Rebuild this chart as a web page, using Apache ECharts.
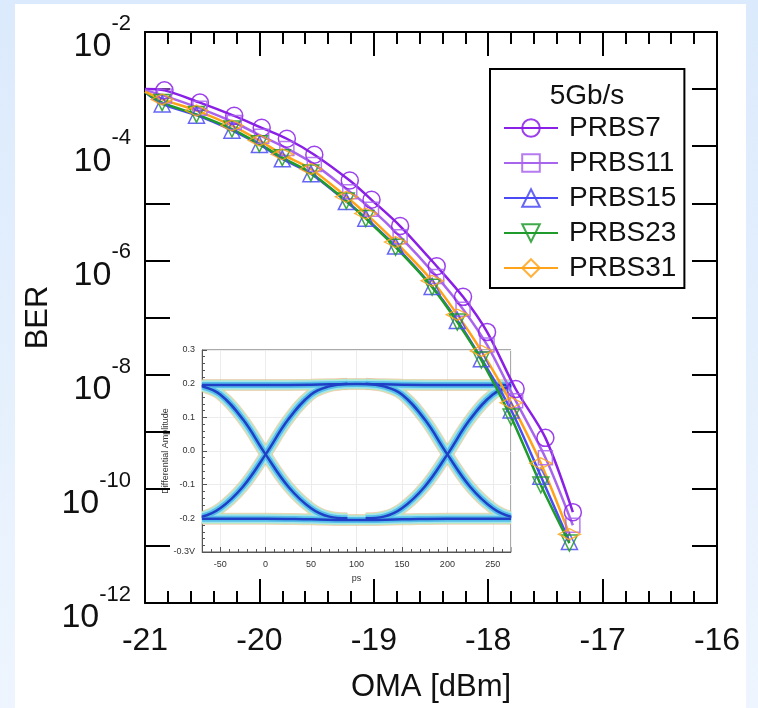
<!DOCTYPE html>
<html>
<head>
<meta charset="utf-8">
<script src="https://cdn.jsdelivr.net/npm/echarts@6/dist/echarts.min.js"></script>
<style>
  html, body { margin: 0; padding: 0; width: 758px; height: 708px; overflow: hidden;
    background: linear-gradient(to bottom, #dbeafc, #eef5fe); }
  #panel { position: absolute; left: 15px; top: 4px; width: 731px; height: 704px; background: #fff; }
  #chart { position: absolute; left: 0; top: 0; width: 758px; height: 708px; }
</style>
</head>
<body>
<div id="panel"></div>
<div id="chart"></div>
<script>
// ---- BER curves (OMA in dBm, BER) ----
const seriesNames = ['PRBS7', 'PRBS11', 'PRBS15', 'PRBS23', 'PRBS31'];
const omaA = [-20.83, -20.52, -20.22, -19.98, -19.76, -19.52, -19.21, -19.02, -18.77, -18.45, -18.22, -18.01, -17.76, -17.50, -17.26];
const omaB = [-20.85, -20.55, -20.24, -20.00, -19.80, -19.55, -19.24, -19.07, -18.81, -18.49, -18.27, -18.06, -17.80, -17.54, -17.29];
const berPRBS7  = [9.5e-4, 5.8e-4, 3.4e-4, 2.1e-4, 1.35e-4, 7.1e-5, 2.5e-5, 1.15e-5, 4.0e-6, 7.9e-7, 2.3e-7, 5.6e-8, 5.6e-9, 7.8e-10, 3.9e-11];
const berPRBS11 = [7.6e-4, 4.6e-4, 2.6e-4, 1.5e-4, 9.1e-5, 4.8e-5, 1.6e-5, 7.9e-6, 2.6e-6, 5.2e-7, 1.4e-7, 3.3e-8, 3.5e-9, 3.5e-10, 2.3e-11];
const berPRBS15 = [5.5e-4, 3.5e-4, 1.9e-4, 1.07e-4, 6.0e-5, 3.3e-5, 1.07e-5, 5.5e-6, 1.78e-6, 3.5e-7, 8.9e-8, 1.9e-8, 2.4e-9, 1.66e-10, 1.2e-11];
const berPRBS23 = [5.8e-4, 3.6e-4, 2.0e-4, 1.1e-4, 6.3e-5, 3.4e-5, 1.1e-5, 5.4e-6, 1.7e-6, 3.4e-7, 8.3e-8, 1.8e-8, 1.8e-9, 1.17e-10, 1.12e-11];
const berPRBS31 = [6.6e-4, 4.2e-4, 2.3e-4, 1.26e-4, 7.2e-5, 4.0e-5, 1.3e-5, 6.6e-6, 2.1e-6, 4.4e-7, 1.12e-7, 2.6e-8, 3.2e-9, 2.8e-10, 1.6e-11];
// fitted curves start at the left edge of the plot
const fitStartOMA = -21;
const fitStartBER = [1.0e-3, 9.6e-4, 8.9e-4, 8.9e-4, 9.0e-4];

// ---- eye diagram traces (ps, V) ----
const eyeTopRail    = [[-70, 0.196], [0, 0.196], [50, 0.197], [100, 0.199], [150, 0.197], [200, 0.196], [270, 0.196]];
const eyeBottomRail = [[-70, -0.201], [0, -0.201], [50, -0.203], [100, -0.205], [150, -0.203], [200, -0.201], [270, -0.201]];
const eyeFall0   = [[-90, 0.2], [-70, 0.192], [-50, 0.168], [-25, 0.094], [0, -0.01], [25, -0.106], [50, -0.17], [70, -0.195], [90, -0.2]];
const eyeRise0   = [[-90, -0.2], [-70, -0.195], [-50, -0.17], [-25, -0.106], [0, -0.01], [25, 0.094], [50, 0.168], [70, 0.192], [90, 0.2]];
const eyeFall200 = [[110, 0.2], [130, 0.192], [150, 0.168], [175, 0.094], [200, -0.01], [225, -0.106], [250, -0.17], [270, -0.195], [290, -0.2]];
const eyeRise200 = [[110, -0.2], [130, -0.195], [150, -0.17], [175, -0.106], [200, -0.01], [225, 0.094], [250, 0.168], [270, 0.192], [290, 0.2]];

const FONT = 'Liberation Sans, Arial, Helvetica, sans-serif';

const styles = [
  { color: '#8a1fe6', symbol: 'circle', size: 17, rotate: 0 },
  { color: '#a964ee', symbol: 'rect', size: 14, rotate: 0 },
  { color: '#4b4bf5', symbol: 'triangle', size: 16, rotate: 0 },
  { color: '#1e9b2a', symbol: 'triangle', size: 16, rotate: 180 },
  { color: '#ffa31a', symbol: 'diamond', size: [22, 11], rotate: 0 }
];
const berSets = [berPRBS7, berPRBS11, berPRBS15, berPRBS23, berPRBS31];
const omaSets = [omaA, omaA, omaB, omaB, omaB];

const mainSeries = seriesNames.map((name, i) => {
  const st = styles[i];
  const data = [{ value: [fitStartOMA, fitStartBER[i]], symbol: 'none' }]
    .concat(omaSets[i].map((x, k) => [x, berSets[i][k]]));
  return {
    name: name, type: 'line', xAxisIndex: 0, yAxisIndex: 0, z: 5,
    smooth: 0.3, data: data,
    symbol: st.symbol, symbolSize: st.size, symbolRotate: st.rotate,
    showAllSymbol: true,
    lineStyle: { color: st.color, width: 2.5 },
    itemStyle: { color: 'rgba(255,255,255,0)', borderColor: st.color, borderWidth: 1.5, opacity: 0.85 },
    emphasis: { disabled: true }
  };
});

const eyeTraces = [eyeTopRail, eyeBottomRail, eyeFall0, eyeRise0, eyeFall200, eyeRise200];
const eyeLayers = [
  { width: 12, color: 'rgba(235,165,130,0.5)' },
  { width: 10.5, color: 'rgba(190,235,160,0.8)' },
  { width: 9, color: '#a3e4ef' },
  { width: 6, color: '#56bfe8' },
  { width: 2.5, color: '#1f3fc6' }
];
const eyeSeries = [];
eyeLayers.forEach(layer => {
  eyeTraces.forEach(trace => {
    eyeSeries.push({
      type: 'line', xAxisIndex: 2, yAxisIndex: 2, z: 2, smooth: 0.4,
      symbol: 'none', data: trace, clip: true, silent: true,
      lineStyle: { color: layer.color, width: layer.width, cap: 'butt' },
      emphasis: { disabled: true }
    });
  });
});

const blackLine = { color: '#000', width: 2 };
const insetLine = { color: '#555', width: 1 };

const option = {
  animation: false,
  backgroundColor: 'transparent',
  textStyle: { fontFamily: FONT },
  grid: [
    { left: 145, top: 32, width: 572, height: 571, show: false },
    { left: 202, top: 350, width: 309, height: 202, show: true, backgroundColor: '#fff', borderColor: '#555', borderWidth: 1 }
  ],
  xAxis: [
    { type: 'value', gridIndex: 0, position: 'bottom', min: -21, max: -16, interval: 1,
      axisLine: { show: true, onZero: false, lineStyle: blackLine },
      axisTick: { inside: true, length: 24, lineStyle: blackLine },
      minorTick: { show: true, splitNumber: 5, length: 12, lineStyle: blackLine },
      splitLine: { show: false },
      axisLabel: { margin: 22, fontSize: 32, color: '#111', fontFamily: FONT },
      name: 'OMA [dBm]', nameLocation: 'middle', nameGap: 69,
      nameTextStyle: { fontSize: 31, color: '#111', fontFamily: FONT } },
    { type: 'value', gridIndex: 0, position: 'top', min: -21, max: -16, interval: 1,
      axisLine: { show: true, onZero: false, lineStyle: blackLine },
      axisTick: { inside: true, length: 24, lineStyle: blackLine },
      minorTick: { show: true, splitNumber: 5, length: 12, lineStyle: blackLine },
      splitLine: { show: false }, axisLabel: { show: false } },
    { type: 'value', gridIndex: 1, position: 'bottom', min: -70, max: 270, splitNumber: 7,
      axisLine: { show: true, onZero: false, lineStyle: insetLine },
      axisTick: { inside: true, length: 5, lineStyle: insetLine },
      minorTick: { show: true, splitNumber: 5, length: 3, lineStyle: insetLine },
      splitLine: { show: true, lineStyle: { color: '#ececec', width: 1 } },
      axisLabel: { margin: 8, fontSize: 9, color: '#333', showMinLabel: false, showMaxLabel: false, fontFamily: FONT },
      name: 'ps', nameLocation: 'middle', nameGap: 22,
      nameTextStyle: { fontSize: 9, color: '#333', fontFamily: FONT } }
  ],
  yAxis: [
    { type: 'log', gridIndex: 0, position: 'left', min: 1e-12, max: 1e-2, interval: 1, logBase: 10,
      axisLine: { show: true, onZero: false, lineStyle: blackLine },
      axisTick: { inside: true, length: 25, lineStyle: blackLine },
      minorTick: { show: false }, splitLine: { show: false },
      axisLabel: {
        margin: 14, color: '#111',
        formatter: v => {
          const e = Math.round(Math.log10(v));
          return e % 2 === 0 ? '{b|10}{s|' + e + '}' : '';
        },
        rich: {
          b: { fontSize: 34, lineHeight: 34, padding: [30, 0, 0, 0], color: '#111', fontFamily: FONT },
          s: { fontSize: 22, lineHeight: 22, padding: [0, 0, 16, 0], color: '#111', fontFamily: FONT }
        }
      },
      name: 'BER', nameLocation: 'middle', nameGap: 91, nameRotate: 90, nameMoveOverlap: false,
      nameTextStyle: { fontSize: 31, color: '#111', fontFamily: FONT } },
    { type: 'log', gridIndex: 0, position: 'right', min: 1e-12, max: 1e-2, interval: 1, logBase: 10,
      axisLine: { show: true, onZero: false, lineStyle: blackLine },
      axisTick: { inside: true, length: 25, lineStyle: blackLine },
      minorTick: { show: false }, splitLine: { show: false }, axisLabel: { show: false } },
    { type: 'value', gridIndex: 1, position: 'left', min: -0.3, max: 0.3, interval: 0.1,
      axisLine: { show: true, onZero: false, lineStyle: insetLine },
      axisTick: { inside: true, length: 5, lineStyle: insetLine },
      minorTick: { show: true, splitNumber: 5, length: 3, lineStyle: insetLine },
      splitLine: { show: true, lineStyle: { color: '#ececec', width: 1 } },
      axisLabel: { margin: 7, fontSize: 9, color: '#333', fontFamily: FONT,
        formatter: v => (Math.abs(v + 0.3) < 1e-9 ? '-0.3V' : (Math.abs(v) < 1e-9 ? 0 : v).toFixed(1)) },
      name: 'Differential Amplitude', nameLocation: 'middle', nameGap: 31, nameRotate: 90,
      nameTextStyle: { fontSize: 9, color: '#333', fontFamily: FONT } }
  ],
  legend: {
    data: seriesNames, orient: 'vertical', left: 490, top: 69,
    padding: [45, 8, 6, 13], itemGap: 7, itemWidth: 54, itemHeight: 22,
    borderColor: '#000', borderWidth: 2, backgroundColor: '#fff',
    selectedMode: false,
    textStyle: { fontSize: 28, color: '#111', fontFamily: FONT, padding: [0, 0, 0, 6] }
  },
  graphic: [
    { type: 'text', z: 100, x: 587, y: 96,
      style: { text: '5Gb/s', font: '28px ' + FONT, fill: '#111', align: 'center', verticalAlign: 'middle' } },
    // trims the eye strokes at the inset's left and right frame
    { type: 'rect', z: 3, silent: true, shape: { x: 195, y: 344, width: 6.5, height: 214 }, style: { fill: '#fff' } },
    { type: 'rect', z: 3, silent: true, shape: { x: 511.5, y: 344, width: 7, height: 214 }, style: { fill: '#fff' } }
  ],
  series: eyeSeries.concat(mainSeries)
};

const chart = echarts.init(document.getElementById('chart'), null, { renderer: 'canvas' });
chart.setOption(option);
</script>
</body>
</html>
